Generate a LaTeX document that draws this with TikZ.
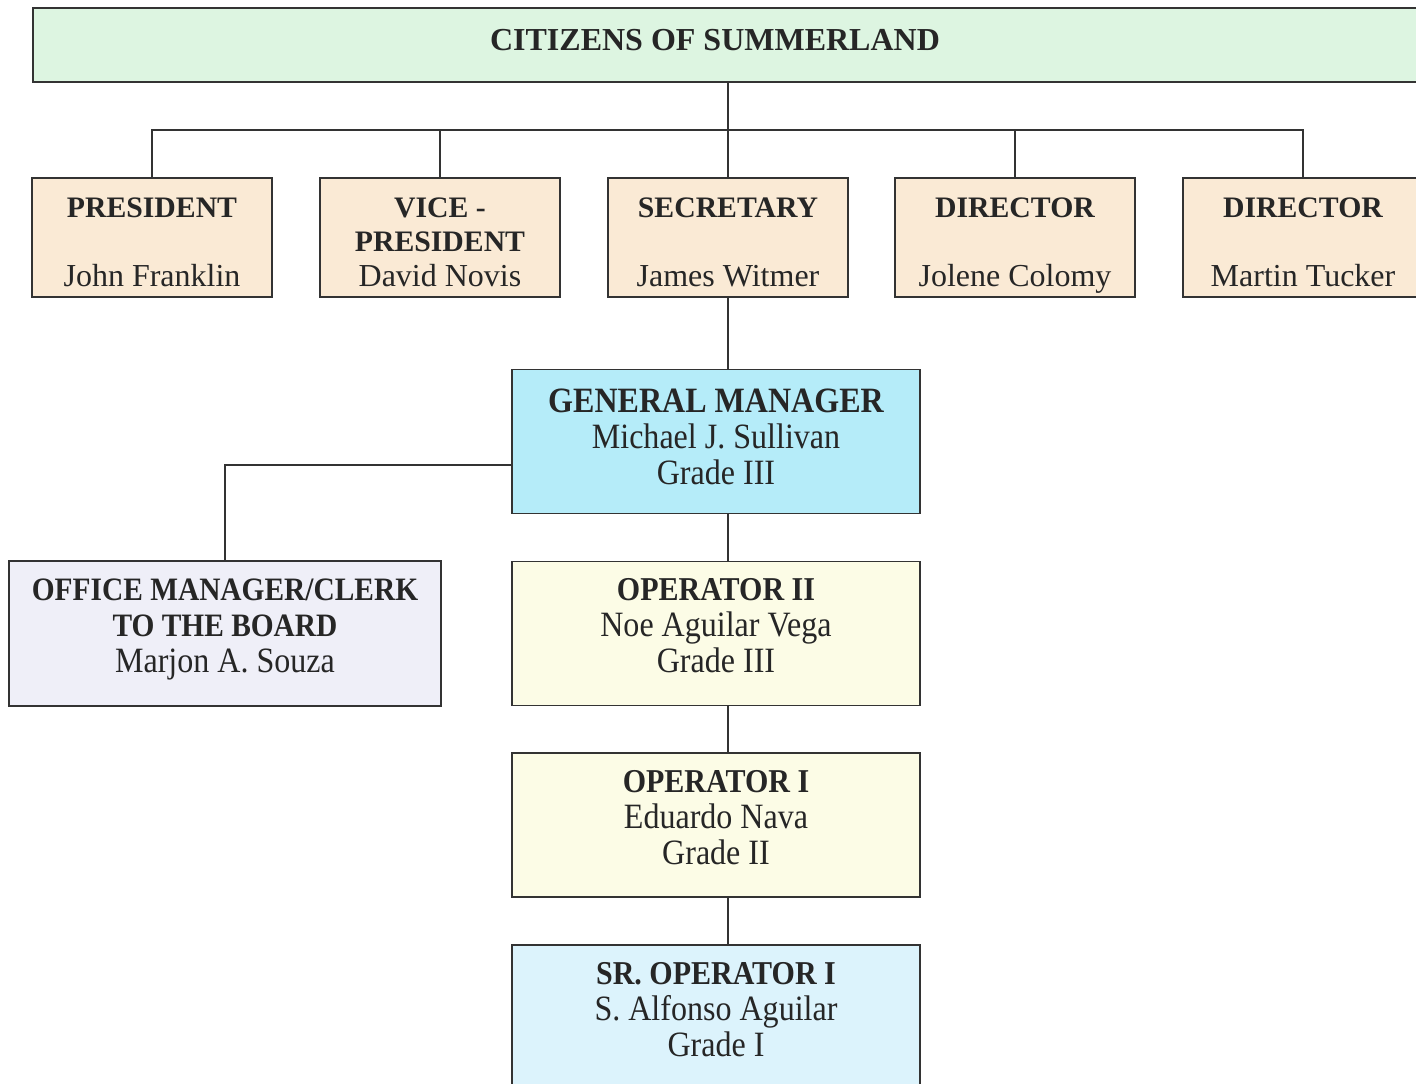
\documentclass[tikz,border=0pt]{standalone}
\usepackage{fontspec}
\setmainfont{Liberation Serif}
\newfontfamily\condfont[FakeStretch=0.9]{Liberation Serif}
\definecolor{cgreen}{HTML}{DDF5E1}
\definecolor{cpeach}{HTML}{FAEAD5}
\definecolor{cblue}{HTML}{B5ECF9}
\definecolor{clav}{HTML}{EFEFF8}
\definecolor{cyel}{HTML}{FCFCE6}
\definecolor{csky}{HTML}{DCF3FC}
\definecolor{cline}{HTML}{333333}
\newcommand{\topttl}[1]{{\bfseries\fontsize{22.3}{25.9}\selectfont #1}}
\newcommand{\topnm}[1]{{\fontsize{24}{25.9}\selectfont #1}}
\newcommand{\lowttl}[1]{{\bfseries\fontsize{25}{27}\selectfont #1}}
\newcommand{\lownm}[1]{{\fontsize{26.7}{27}\selectfont #1}}
\begin{document}
\begin{tikzpicture}[x=0.75pt,y=-0.75pt,
  box/.style={draw=cline,line width=1.4pt,rectangle,inner sep=0pt},
  toprow/.style={box,fill=cpeach,minimum width=180pt,minimum height=89pt},
  lowbox/.style={box,minimum width=306pt,minimum height=108pt},
  toptxt/.style={align=center,text=black!85,text depth=0pt,inner sep=0pt,font=\fontsize{24}{25.9}\selectfont},
  lowtxt/.style={align=center,text=black!85,text depth=0pt,inner sep=0pt,font=\condfont\fontsize{26.7}{27}\selectfont},
  conn/.style={draw=cline,line width=1.4pt}]
\useasboundingbox (0,0) rectangle (1416,1084);
% citizens
\node[box,fill=cgreen,minimum width=1038pt,minimum height=55.5pt] (cit) at (725,45) {};
\node[font=\bfseries\fontsize{24}{26}\selectfont,text=black!85] (cittext) at (715,40) {CITIZENS OF SUMMERLAND};
% top row boxes
\node[toprow] (pres) at (152,237.5) {};
\node[toprow] (vp) at (440,237.5) {};
\node[toprow] (sec) at (728,237.5) {};
\node[toprow] (dir1) at (1015,237.5) {};
\node[toprow] (dir2) at (1303,237.5) {};
% top row text
\node[toptxt] (pres-t) at (152,242) {\topttl{PRESIDENT}\\[25.9pt]\topnm{John Franklin}};
\node[toptxt] (vp-t) at (440,242) {\topttl{VICE -}\\\topttl{PRESIDENT}\\\topnm{David Novis}};
\node[toptxt] (sec-t) at (728,242) {\topttl{SECRETARY}\\[25.9pt]\topnm{James Witmer}};
\node[toptxt] (dir1-t) at (1015,242) {\topttl{DIRECTOR}\\[25.9pt]\topnm{Jolene Colomy}};
\node[toptxt] (dir2-t) at (1303,242) {\topttl{DIRECTOR}\\[25.9pt]\topnm{Martin Tucker}};
% lower boxes
\node[lowbox,fill=cblue] (gm) at (716,441.5) {};
\node[box,fill=clav,minimum width=324pt,minimum height=108.75pt] (om) at (225,633.5) {};
\node[lowbox,fill=cyel] (op2) at (716,633.5) {};
\node[lowbox,fill=cyel] (op1) at (716,825) {};
\node[lowbox,fill=csky] (sr) at (716,1017) {};
% lower text
\node[lowtxt] (gm-t) at (716,437) {{\bfseries\fontsize{26.7}{27}\selectfont GENERAL MANAGER}\\\lownm{Michael J. Sullivan}\\\lownm{Grade III}};
\node[lowtxt] (om-t) at (225,625.5) {{\bfseries\fontsize{24.5}{26}\selectfont OFFICE MANAGER/CLERK}\\{\bfseries\fontsize{24.5}{26}\selectfont TO THE BOARD}\\\lownm{Marjon A. Souza}};
\node[lowtxt] (op2-t) at (716,625.5) {\lowttl{OPERATOR II}\\\lownm{Noe Aguilar Vega}\\\lownm{Grade III}};
\node[lowtxt] (op1-t) at (716,817.5) {\lowttl{OPERATOR I}\\\lownm{Eduardo Nava}\\\lownm{Grade II}};
\node[lowtxt] (sr-t) at (716,1009.5) {\lowttl{SR. OPERATOR I}\\\lownm{S. Alfonso Aguilar}\\\lownm{Grade I}};
% connectors
\coordinate (bus) at (728,130);
\draw[conn] (cit.south -| sec.north) -- (sec.north);
\draw[conn] (pres.north) |- (bus) -| (dir2.north);
\draw[conn] (vp.north) -- (vp.north |- bus);
\draw[conn] (dir1.north) -- (dir1.north |- bus);
\draw[conn] (sec.south) -- (sec.south |- gm.north);
\draw[conn] (gm.west |- 0,465) -| (om.north);
\draw[conn] (gm.south -| sec.south) -- (op2.north -| sec.south);
\draw[conn] (op2.south -| sec.south) -- (op1.north -| sec.south);
\draw[conn] (op1.south -| sec.south) -- (sr.north -| sec.south);
\end{tikzpicture}
\end{document}
